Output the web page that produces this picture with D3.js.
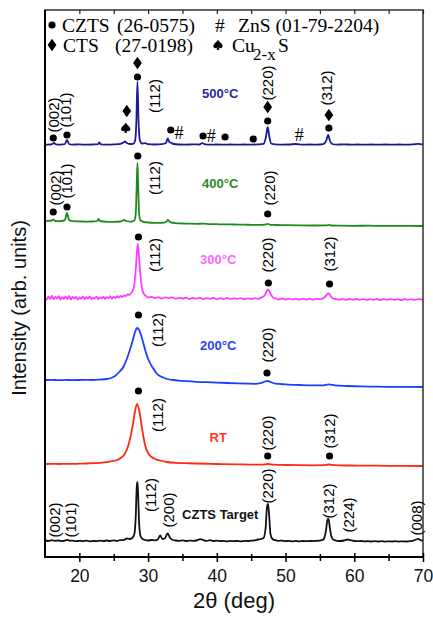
<!DOCTYPE html>
<html><head><meta charset="utf-8">
<script src="https://cdn.jsdelivr.net/npm/d3@7"></script>
<style>html,body{margin:0;padding:0;background:#fff}</style>
</head><body>
<svg id="chart" width="433" height="617"></svg>
<script>
// XRD patterns of CZTS films annealed at different temperatures, stacked.
// Each pattern: [2θ (deg), intensity above its own baseline (arb. units)]
const czts = [[15,1.5],[15.5,1],[16,1.8],[16.4,1.2],[17,1.5],[17.5,0.8],[18,1.6],[18.3,2.2],[18.6,1.2],[19,1.4],[19.5,0.8],[20,1.2],[20.5,0.9],[21,1.4],[21.5,0.7],[22,1.2],[22.5,0.8],[23,1.3],[23.5,1],[24,1.5],[24.5,1],[25,1.6],[25.5,1.2],[26,1.8],[26.5,2.2],[26.9,3.5],[27.3,3],[27.7,4],[28,8],[28.2,25],[28.35,55],[28.45,60],[28.55,48],[28.7,18],[28.9,6],[29.2,3],[29.6,2],[30,1.5],[30.5,2],[31,1.6],[31.4,2.5],[31.75,6.5],[32.1,3],[32.4,3.5],[32.85,8.5],[33.2,4],[33.6,2],[34,1.5],[34.5,1.2],[35,1.6],[35.5,1],[36,1.4],[36.5,1.2],[37,1.5],[37.6,2.8],[38,2],[38.5,1.2],[39,1.8],[39.5,1],[40,1.3],[40.5,0.8],[41,1.2],[41.5,0.7],[42,1.1],[42.5,0.8],[43,1.2],[43.5,0.7],[44,1.1],[44.5,1],[45,1.3],[45.5,1.6],[46,2.5],[46.4,3],[46.8,4],[47.1,14],[47.3,35],[47.45,38],[47.6,28],[47.8,8],[48.1,3],[48.5,1.8],[49,1.2],[49.5,1.4],[50,0.8],[50.5,1.2],[51,0.7],[51.5,1.1],[52,0.6],[52.5,1],[53,0.8],[53.5,1.1],[54,0.9],[54.5,1.2],[55,1.4],[55.5,2.5],[55.85,10],[56.1,22],[56.25,23],[56.45,14],[56.7,5],[57,2.2],[57.5,1.2],[58,1],[58.5,1.5],[59,2.5],[59.4,1.8],[60,1],[60.5,0.8],[61,1],[61.5,0.6],[62,0.9],[62.5,0.5],[63,0.8],[63.5,0.5],[64,0.8],[64.5,0.4],[65,0.7],[65.5,0.5],[66,0.8],[66.5,0.4],[67,0.7],[67.5,0.5],[68,0.8],[68.5,1.2],[69,2.5],[69.3,3.2],[69.6,2],[70,1.2]];

const rt = [[15,2],[16,2.1],[17,2],[18,2.2],[19,2.1],[20,2.3],[21,2.5],[22,2.8],[23,3.2],[24,3.8],[24.8,4.8],[25.5,6],[26,8],[26.5,11],[27,18],[27.4,28],[27.8,42],[28.1,55],[28.4,62],[28.7,56],[29,43],[29.3,30],[29.6,20],[30,13],[30.5,9],[31,7],[31.7,5.5],[32.7,4],[34,3.2],[35.5,2.8],[37,2.5],[39,2.2],[41,1.8],[43,1.6],[45,1.4],[46.5,1.3],[47.4,2],[48.3,1.3],[50,1],[52,0.8],[54,0.7],[55.5,0.8],[56.3,1.5],[57.2,0.8],[59,0.5],[61,0.4],[63,0.3],[65,0.2],[67,0.2],[70,0]];

const t200 = [[15,7],[16,7.2],[17,6.8],[18,7.1],[19,6.9],[20,7],[21,7.2],[22,7],[23,7.4],[24,8],[24.6,9],[25.2,11],[25.8,15],[26.4,20],[26.9,28],[27.3,36],[27.7,45],[28.1,55],[28.4,59],[28.7,57],[29.1,49],[29.5,39],[29.8,32],[30.2,25],[30.7,19],[31.2,14],[31.7,11],[32.2,9.5],[32.8,8],[33.6,7],[34.5,6.3],[35.5,5.8],[37,5.2],[38.5,4.8],[40,4.4],[41.5,4],[43,3.6],[44.5,3.3],[45.5,3.2],[46.4,3.8],[47,5.5],[47.4,6],[47.8,5],[48.5,3.4],[50,2.6],[52,2],[54,1.6],[55.5,1.7],[56.3,2.6],[57.2,1.6],[59,1],[61,0.6],[63,0.4],[65,0.2],[67,0.1],[70,0]];

const t300 = [[15,2.5],[15.25,0.5],[15.5,3.5],[15.75,1],[16,4],[16.25,0.8],[16.5,3],[16.75,1.5],[17,3.8],[17.25,0.5],[17.5,2.8],[17.75,1.2],[18,3.5],[18.25,1],[18.5,4],[18.75,0.5],[19,3],[19.25,1.5],[19.5,3.2],[19.75,0.3],[20,2.5],[20.25,1.2],[20.5,3.5],[20.75,0.8],[21,2.8],[21.25,1.5],[21.5,3.6],[21.75,0.6],[22,2.2],[22.25,1.4],[22.5,3.3],[22.75,0.9],[23,2.6],[23.25,1.6],[23.5,3.4],[23.75,1],[24,2.9],[24.25,1.8],[24.5,3.8],[24.75,1.5],[25,3.2],[25.25,2],[25.5,3.9],[25.75,2.4],[26,4],[26.25,3],[26.5,4.5],[26.75,3.8],[27,5.5],[27.25,5],[27.5,7],[27.75,9],[28,16],[28.2,30],[28.4,50],[28.5,56],[28.6,50],[28.8,32],[29,17],[29.2,9],[29.4,6],[29.6,4.5],[29.8,3.5],[30,2.5],[30.5,3.2],[31,1.8],[31.5,2.8],[32,1.5],[32.5,2.6],[33,1.9],[33.5,2.7],[34,1.2],[34.5,2.2],[35,1.5],[35.5,2.4],[36,1],[36.5,2],[37,1.3],[37.5,2.3],[38,1],[38.5,1.9],[39,1.2],[39.5,2.1],[40,0.8],[40.5,1.8],[41,1],[41.5,2],[42,0.9],[42.5,1.7],[43,1.1],[43.5,1.9],[44,0.8],[44.5,1.6],[45,1],[45.5,1.8],[46,1.2],[46.5,2.5],[47,5],[47.2,8],[47.45,10.5],[47.7,8],[48,4],[48.3,2],[48.7,1.5],[49,0.6],[49.5,1.5],[50,0.5],[50.5,1.4],[51,0.6],[51.5,1.3],[52,0.4],[52.5,1.2],[53,0.5],[53.5,1.3],[54,0.4],[54.5,1.2],[55,0.8],[55.5,1.8],[55.8,3.5],[56.1,6],[56.3,6.5],[56.6,3.5],[56.9,1.5],[57.3,1],[57.8,0.3],[58.3,1.1],[58.8,0.2],[59.3,1],[59.8,0.3],[60.3,1],[60.8,0.2],[61.3,0.9],[61.8,0.1],[62.3,0.8],[62.8,0.2],[63.3,1],[63.8,0],[64.3,0.8],[64.8,0.2],[65.3,0.9],[65.8,0.1],[66.3,0.8],[66.8,0],[67.3,0.9],[67.8,0.2],[68.3,0.8],[68.8,0.1],[69.3,0.9],[70,0.3]];

const t400 = [[15,5],[15.5,5.2],[16,5.5],[16.2,6.5],[16.5,5],[17,4.8],[17.5,5],[17.9,6],[18.2,13],[18.5,6],[19,4.8],[20,4.6],[21,4.4],[22,4.5],[22.6,5],[22.8,7],[23,5],[24,4.2],[25,4.1],[26,4.5],[26.5,6],[26.8,5],[27.5,4.4],[28,5.5],[28.2,12],[28.35,42],[28.45,63],[28.55,42],[28.7,12],[28.9,5.5],[29.3,4.2],[30,3.5],[31,3.2],[32,3.2],[32.6,4],[32.9,6],[33.2,3.8],[34,2.8],[35,2.5],[36,2.3],[37,2.2],[38,2.3],[39,1.9],[40,1.8],[41,1.6],[42,1.6],[43,1.4],[44,1.3],[45,1.2],[46,1.1],[47,1.3],[47.4,2.2],[47.8,1.2],[48.5,1],[50,0.8],[52,0.6],[54,0.5],[56,0.6],[56.3,1.2],[56.6,0.5],[58,0.3],[60,0.2],[62,0.3],[64,0.1],[66,0.2],[68,0.1],[70,0]];

const t500 = [[15,0.5],[15.5,0.3],[16,0.8],[16.3,2],[16.6,0.6],[17,0.3],[17.5,0.5],[17.9,1],[18.2,5],[18.5,1],[19,0.4],[20,0.6],[21,0.3],[22,0.5],[22.7,0.8],[22.9,2.5],[23.1,0.6],[24,0.4],[25,0.6],[26,1.2],[26.4,2.5],[26.6,3.5],[26.9,2],[27.3,1],[27.8,1.2],[28.1,4],[28.3,25],[28.45,63],[28.6,26],[28.8,5],[29.1,1.5],[29.6,1.8],[30,0.8],[31,0.5],[32,0.8],[32.6,2],[32.85,6.5],[33.1,3],[33.4,2],[33.7,1],[34.5,0.5],[35.5,0.4],[36.5,0.6],[37.5,0.5],[37.9,1.8],[38.3,0.6],[39,0.4],[40,0.5],[41,0.4],[42,0.5],[43,0.3],[44,0.5],[45,0.4],[46,0.6],[46.8,1.2],[47.15,8],[47.4,18],[47.65,8],[47.9,1.5],[48.5,0.6],[49.5,0.4],[50.5,0.5],[51.5,1],[52.5,0.4],[53.5,0.5],[54.5,0.3],[55.5,0.8],[55.95,5],[56.2,10],[56.45,4.5],[56.8,1],[57.5,0.4],[58.5,0.6],[59.5,0.4],[60.5,0.5],[61.5,0.3],[62.5,0.5],[63.5,0.4],[64.5,0.5],[65.5,0.3],[66.5,0.5],[67.5,0.4],[68.5,0.6],[69.3,1.2],[70,0.5]];

// Stacking offsets (arb. units), bottom to top
const sampleNames = ["CZTS Target", "RT", "200°C", "300°C", "400°C", "500°C"];
const offsets = [15, 91, 170, 257, 331, 412];

// Phase markers: [symbol, 2θ, height above baseline]
const marks500 = [["dot",16.2,7],["dot",18.2,10],["spade",26.75,17],["dia",26.9,34],["dot",28.45,68],["dia",28.45,82],["dot",33.3,15],["hash",34.5,12],["dot",38.0,9],["hash",39.2,9],["dot",41.2,8],["dot",45.3,6],["dot",47.4,24],["dia",47.4,38],["hash",52.0,10],["dot",56.3,17],["dia",56.3,30]];
const marks400 = [["dot",16.2,14],["dot",18.2,19],["dot",28.5,70],["dot",47.4,12]];
const marks300 = [["dot",28.6,63],["dot",47.5,17],["dot",56.4,16]];
const marks200 = [["dot",28.6,72],["dot",47.3,14]];
const marksRT = [["dot",28.6,75],["dot",47.4,10],["dot",56.4,10]];
const marksTarget = [];

// Miller-index labels: [text, 2θ, height above baseline]
const hkl500 = [["(002)",16.3,30],["(101)",18.0,35],["(112)",31.0,49],["(220)",47.4,62],["(312)",56.0,57]];
const hkl400 = [["(002)",16.6,38],["(101)",18.2,45],["(112)",31.0,48],["(220)",47.6,38]];
const hkl300 = [["(112)",31.0,45],["(220)",47.4,45],["(312)",56.4,46]];
const hkl200 = [["(112)",31.3,57],["(220)",47.4,42]];
const hklRT = [["(112)",31.3,51],["(220)",47.4,33],["(312)",56.4,35]];
const hklTarget = [["(002)",16.4,22],["(101)",18.7,22],["(112)",30.4,47],["(200)",32.9,32],["(220)",47.4,56],["(312)",56.3,41],["(224)",59.1,27],["(008)",69.0,24]];

// Sample name placement: [2θ, height above baseline]
const namePos = [[40.5,28],[40.2,29],[40.2,42],[40.2,41],[40.5,43],[40.5,52]];

const xTicks = [20, 30, 40, 50, 60, 70];
const xMinor = [25, 35, 45, 55, 65];

const series = [czts, rt, t200, t300, t400, t500];
const marks = [marksTarget, marksRT, marks200, marks300, marks400, marks500];
const hkls = [hklTarget, hklRT, hkl200, hkl300, hkl400, hkl500];
const lineColors = ["#111111", "#ff2a12", "#1f3dff", "#ff3cff", "#1f8a1f", "#1b1b92"];
const nameColors = ["#111111", "#ff3a22", "#2a44f2", "#ff66ff", "#2e8b22", "#2a2aa0"];

const svg = d3.select("#chart");
svg.append("rect").attr("width", 433).attr("height", 617).attr("fill", "#fff");

const x = d3.scaleLinear().domain([15, 70]).range([45, 423]);
const y = d3.scaleLinear().domain([0, 547]).range([557, 10]);

const sans = "Arial, 'Liberation Sans', Helvetica, sans-serif";
const serif = "'Times New Roman', 'Liberation Serif', serif";

// Patterns
const line = d3.line().x(d => x(d[0])).y(d => y(d[1])).curve(d3.curveMonotoneX);
series.forEach((s, i) => {
  const off = offsets[i];
  svg.append("path")
    .datum(s.map(p => [p[0], p[1] + off]))
    .attr("d", line)
    .attr("fill", "none")
    .attr("stroke", lineColors[i])
    .attr("stroke-width", 1.8)
    .attr("stroke-linejoin", "round");
});

// Symbols
function drawSymbol(g, kind, cx, cy) {
  if (kind === "dot") {
    g.append("circle").attr("cx", cx).attr("cy", cy).attr("r", 3.6).attr("fill", "#000");
  } else if (kind === "dia") {
    g.append("path").attr("d", `M${cx},${cy-6.2}L${cx+4.4},${cy}L${cx},${cy+6.2}L${cx-4.4},${cy}Z`).attr("fill", "#000");
  } else if (kind === "spade") {
    g.append("path")
      .attr("transform", `translate(${cx},${cy})`)
      .attr("d", "M0,-5.2C-1.2,-3 -5,-1 -4.6,1.6C-4.2,3.6 -1.6,3.8 -0.6,2.2L-1.6,4.8L1.6,4.8L0.6,2.2C1.6,3.8 4.2,3.6 4.6,1.6C5,-1 1.2,-3 0,-5.2Z")
      .attr("fill", "#000");
  } else if (kind === "hash") {
    g.append("text").attr("x", cx).attr("y", cy).attr("text-anchor", "middle")
      .attr("dominant-baseline", "central").attr("font-family", serif)
      .attr("font-size", 18).attr("fill", "#000").text("#");
  }
}

const ann = svg.append("g");
marks.forEach((m, i) => {
  m.forEach(d => drawSymbol(ann, d[0], x(d[1]), y(d[2] + offsets[i])));
});

hkls.forEach((h, i) => {
  h.forEach(d => {
    ann.append("text")
      .attr("transform", `translate(${x(d[1])},${y(d[2] + offsets[i])}) rotate(-90)`)
      .attr("text-anchor", "middle").attr("dominant-baseline", "central")
      .attr("font-family", sans).attr("font-size", 15).attr("fill", "#000")
      .text(d[0]);
  });
});

sampleNames.forEach((n, i) => {
  ann.append("text")
    .attr("x", x(namePos[i][0])).attr("y", y(namePos[i][1] + offsets[i]))
    .attr("text-anchor", "middle").attr("dominant-baseline", "central")
    .attr("font-family", sans).attr("font-size", 13).attr("font-weight", "bold")
    .attr("fill", nameColors[i]).text(n);
});

// Frame
svg.append("rect").attr("x", 45).attr("y", 10).attr("width", 378).attr("height", 547)
  .attr("fill", "none").attr("stroke", "#222").attr("stroke-width", 1.4);
svg.append("line").attr("x1", 45).attr("x2", 45).attr("y1", 10).attr("y2", 558)
  .attr("stroke", "#000").attr("stroke-width", 2);
svg.append("line").attr("x1", 44).attr("x2", 424).attr("y1", 557).attr("y2", 557)
  .attr("stroke", "#000").attr("stroke-width", 2);

// Bottom axis
const xb = svg.append("g").attr("transform", "translate(0,557)")
  .call(d3.axisBottom(x).tickValues(xTicks).tickSize(5).tickPadding(8).tickFormat(d3.format("d")));
xb.select(".domain").remove();
xb.selectAll(".tick line").attr("y1", -4).attr("stroke", "#000").attr("stroke-width", 1.5);
xb.selectAll(".tick text").attr("font-family", sans).attr("font-size", 17.5).attr("fill", "#111");

const xm = svg.append("g").attr("transform", "translate(0,557)")
  .call(d3.axisBottom(x).tickValues(xMinor).tickSize(4).tickFormat(""));
xm.select(".domain").remove();
xm.selectAll(".tick line").attr("y1", -3).attr("stroke", "#000").attr("stroke-width", 1.5);

// Top ticks
const xt = svg.append("g").attr("transform", "translate(0,10)")
  .call(d3.axisBottom(x).tickValues(xTicks.concat(xMinor)).tickSize(4).tickFormat(""));
xt.select(".domain").remove();
xt.selectAll(".tick line").attr("stroke", "#222").attr("stroke-width", 1.2);

// Axis titles
svg.append("text").attr("x", 234).attr("y", 608).attr("text-anchor", "middle")
  .attr("font-family", sans).attr("font-size", 22).attr("fill", "#111").text("2\u03b8 (deg)");
svg.append("text").attr("transform", "translate(26,308) rotate(-90)").attr("text-anchor", "middle")
  .attr("font-family", sans).attr("font-size", 20).attr("fill", "#111").text("Intensity (arb. units)");

// Phase key
const key = svg.append("g").attr("font-family", serif).attr("font-size", 19.5).attr("fill", "#000");
drawSymbol(key, "dot", 52, 25);
key.append("text").attr("x", 62).attr("y", 31.5).text("CZTS");
key.append("text").attr("x", 117).attr("y", 31.5).text("(26-0575)");
key.append("text").attr("x", 215).attr("y", 31.5).text("#");
key.append("text").attr("x", 238).attr("y", 31.5).text("ZnS (01-79-2204)");
drawSymbol(key, "dia", 52, 45);
key.append("text").attr("x", 63).attr("y", 51.5).text("CTS");
key.append("text").attr("x", 115).attr("y", 51.5).text("(27-0198)");
drawSymbol(key, "spade", 218, 45);
key.append("text").attr("x", 232).attr("y", 51.5).text("Cu");
key.append("text").attr("x", 253).attr("y", 60).attr("font-size", 17).text("2-x");
key.append("text").attr("x", 278).attr("y", 51.5).text("S");
</script>
</body></html>
